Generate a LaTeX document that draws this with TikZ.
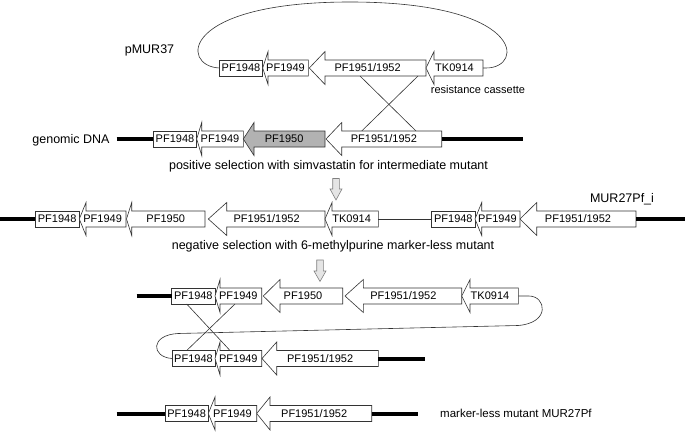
\documentclass[tikz,border=0pt]{standalone}
\usepackage{fontspec}
\setmainfont{Liberation Sans}
\tikzset{
 gene/.style={draw=black!80, line width=0.6pt, fill=white, line join=miter},
 genetxt/.style={font=\fontsize{11}{13}\selectfont, inner sep=0pt},
 lbl/.style={font=\fontsize{12.5}{15}\selectfont, inner sep=0pt},
 smlbl/.style={font=\fontsize{11}{13}\selectfont, inner sep=0pt},
 dna/.style={line width=4pt, black},
 thinl/.style={draw=black!80, line width=0.6pt},
 downarr/.style={draw=black!50, fill=black!10, line width=0.6pt}
}
% name tip head end y label fill
\newcommand\garrow[7]{%
 \draw[gene,fill=#7] (#2,#5) -- (#3,#5-16.5) -- (#3,#5-8) -- (#4,#5-8) -- (#4,#5+8) -- (#3,#5+8) -- (#3,#5+16.5) -- cycle;
 \node[genetxt] (#1) at ({(#2+#4)/2},#5) {#6};
 \coordinate (#1-e) at (#4,#5);
 \coordinate (#1-t) at (#2,#5);}
% name x1 x2 y label
\newcommand\gbox[5]{%
 \draw[gene] (#2,#4-8) rectangle (#3,#4+8);
 \node[genetxt] (#1) at ({(#2+#3)/2},#4) {#5};
 \coordinate (#1-w) at (#2,#4);
 \coordinate (#1-e) at (#3,#4);}
\begin{document}
\begin{tikzpicture}[x=1pt,y=-1pt]
\useasboundingbox (0,0) rectangle (685,431);

% ---------- row 1: pMUR37 ----------
\node[lbl] (pmur) at (149.5,50) {pMUR37};
\gbox{r1a}{219.3}{262.7}{68}{PF1948}
\garrow{r1b}{262.7}{268}{308.3}{68}{PF1949}{white}
\garrow{r1c}{309.3}{325}{426}{68}{PF1951/1952}{white}
\garrow{r1d}{426}{434}{483}{68}{TK0914}{white}
\node[smlbl] (cass) at (478,90) {resistance cassette};
\draw[thinl] (r1a-w) .. controls (180,66) and (180,2) .. (350,2) .. controls (525,2) and (525,68) .. (486,68) -- (r1d-e);
\coordinate (x1a) at (360,76);
\coordinate (x1b) at (418,76);
\coordinate (x2a) at (361.7,131);
\coordinate (x2b) at (416,131);
\draw[thinl] (x1a) -- (x2b);
\draw[thinl] (x1b) -- (x2a);

% ---------- row 2: genomic DNA ----------
\node[lbl] (gdna) at (71,140) {genomic DNA};
\coordinate (d2l) at (116.7,139);
\coordinate (d2r) at (523.3,139);
\gbox{r2a}{153.3}{196.7}{139}{PF1948}
\garrow{r2b}{196.7}{201.7}{243.3}{139}{PF1949}{white}
\garrow{r2c}{243.3}{254}{325}{139}{PF1950}{black!30}
\garrow{r2d}{326}{341.7}{441.7}{139}{PF1951/1952}{white}
\draw[dna] (d2l) -- (r2a-w);
\draw[dna] (r2d-e) -- (d2r);
\node[lbl] (pos) at (328.5,166.5) {positive selection with simvastatin for intermediate mutant};
\draw[downarr] (332.7,178.5) -- (339.3,178.5) -- (339.3,189) -- (342,189) -- (336,200) -- (330,189) -- (332.7,189) -- cycle;

% ---------- row 3: MUR27Pf_i ----------
\node[lbl] (mi) at (622,199) {MUR27Pf\_i};
\coordinate (d3l) at (0,219);
\coordinate (d3r) at (685,219);
\gbox{r3a}{35}{79.3}{219}{PF1948}
\garrow{r3b}{79.3}{86}{126}{219}{PF1949}{white}
\garrow{r3c}{126.5}{131.7}{205}{219}{PF1950}{white}
\garrow{r3d}{208.3}{226.7}{325}{219}{PF1951/1952}{white}
\garrow{r3e}{325}{332}{378.3}{219}{TK0914}{white}
\gbox{r3f}{431.7}{475}{219}{PF1948}
\garrow{r3g}{475}{481.7}{520}{219}{PF1949}{white}
\garrow{r3h}{520}{536.7}{636}{219}{PF1951/1952}{white}
\draw[dna] (d3l) -- (r3a-w);
\draw[thinl] (r3e-e) -- (r3f-w);
\draw[dna] (r3h-e) -- (d3r);
\node[lbl] (neg) at (333,246.5) {negative selection with 6-methylpurine marker-less mutant};
\draw[downarr] (316.7,260) -- (323.3,260) -- (323.3,271) -- (326,271) -- (320,281.5) -- (314,271) -- (316.7,271) -- cycle;

% ---------- row 4 ----------
\coordinate (d4l) at (136.7,296);
\gbox{r4a}{171.7}{215}{296}{PF1948}
\garrow{r4b}{215}{220}{261.7}{296}{PF1949}{white}
\garrow{r4c}{263.3}{280}{342.7}{296}{PF1950}{white}
\garrow{r4d}{345}{363.3}{461.7}{296}{PF1951/1952}{white}
\garrow{r4e}{461.7}{470}{518.3}{296}{TK0914}{white}
\draw[dna] (d4l) -- (r4a-w);

% ---------- row 5 ----------
\coordinate (d5r) at (425,358.5);
\gbox{r5a}{172}{215}{358.5}{PF1948}
\garrow{r5b}{215}{220}{261.7}{358.5}{PF1949}{white}
\garrow{r5c}{262}{276.7}{378.3}{358.5}{PF1951/1952}{white}
\draw[dna] (r5c-e) -- (d5r);
\draw[thinl] (r4e-e) -- (529,296) .. controls (546,296) and (551,323) .. (518,325.5) -- (178,333.5) .. controls (150,335) and (151,357) .. (r5a-w);
\coordinate (y1a) at (186.7,304);
\coordinate (y1b) at (235,304);
\coordinate (y2a) at (186.7,350.5);
\coordinate (y2b) at (230,350.5);
\draw[thinl] (y1a) -- (y2b);
\draw[thinl] (y1b) -- (y2a);

% ---------- row 6 ----------
\coordinate (d6l) at (116.7,413.5);
\coordinate (d6r) at (418.3,413.5);
\gbox{r6a}{165}{208.3}{413.5}{PF1948}
\garrow{r6b}{208.3}{215}{256.7}{413.5}{PF1949}{white}
\garrow{r6c}{256.7}{270}{371.7}{413.5}{PF1951/1952}{white}
\draw[dna] (d6l) -- (r6a-w);
\draw[dna] (r6c-e) -- (d6r);
\node[font=\fontsize{11.5}{14}\selectfont, inner sep=0pt, anchor=west] (final) at (440,413.5) {marker-less mutant MUR27Pf};
\end{tikzpicture}
\end{document}
